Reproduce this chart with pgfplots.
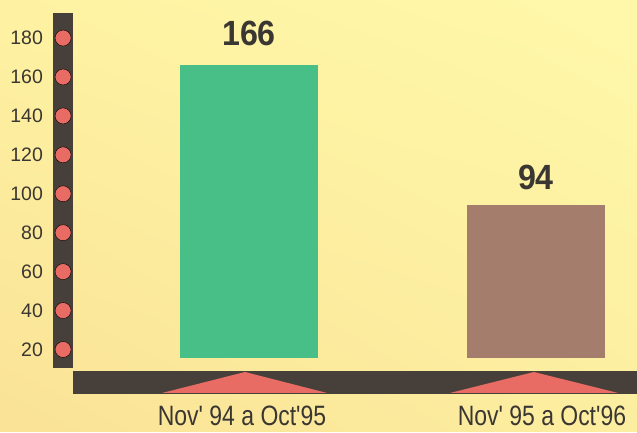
\documentclass[border=0pt]{standalone}
\usepackage{fontspec}
\setmainfont{Liberation Sans}
\usepackage{graphicx}
\usepackage{pgfplots}
\pgfplotsset{compat=1.18}
\usetikzlibrary{shadings}
\definecolor{bgLL}{HTML}{FAE296}
\definecolor{bgLR}{HTML}{FCEEA0}
\definecolor{bgUL}{HTML}{FEF2A2}
\definecolor{bgUR}{HTML}{FFF8AA}
\definecolor{darkband}{HTML}{47403A}
\definecolor{salmon}{HTML}{E86C64}
\definecolor{barGreen}{HTML}{47BF86}
\definecolor{barBrown}{HTML}{A57D6C}
\definecolor{txt}{HTML}{3A3632}
\begin{document}
\begin{tikzpicture}
\begin{axis}[
  scale only axis, width=637pt, height=432pt,
  xmin=0, xmax=637, ymin=-22.37, ymax=199.5,
  y coord trafo/.code={\pgfmathparse{#1-15.6}},
  y coord inv trafo/.code={\pgfmathparse{#1+15.6}},
  axis line style={draw=none},
  major tick length=0pt,
  ytick={20,40,60,80,100,120,140,160,180},
  yticklabel style={anchor=east, inner sep=0pt, xshift=43pt, font=\fontsize{19.5}{22}\selectfont, text=txt},
  /pgf/number format/assume math mode=true,
  xtick={242,542},
  xticklabels={Nov\textquotesingle{} 94 a Oct\textquotesingle95, Nov\textquotesingle{} 95 a Oct\textquotesingle96},
  xticklabel style={anchor=base, inner sep=0pt, yshift=6.5pt, font=\fontsize{28}{30}\selectfont, text=txt, xscale=0.82},
  axis background/.style={shade, upper left=bgUL, upper right=bgUR, lower left=bgLL, lower right=bgLR},
]
% vertical dark bar
\addplot[fill=darkband, draw=none] coordinates {(53,10.5)(72.5,10.5)(72.5,193.0)(53,193.0)};
% horizontal dark band
\addplot[fill=darkband, draw=none] coordinates {(72.5,8.96)(637,8.96)(637,-2.86)(72.5,-2.86)};
% triangles
\addplot[fill=salmon, draw=none] coordinates {(162,-2.34)(245,8.44)(327,-2.34)};
\addplot[fill=salmon, draw=none] coordinates {(450,-2.34)(534,8.44)(618,-2.34)};
% circles at tick positions
\addplot[only marks, mark=*, mark size=8pt, mark options={fill=salmon, draw=none}] coordinates {(63,20)(63,40)(63,60)(63,80)(63,100)(63,120)(63,140)(63,160)(63,180)};
% bars
\addplot[ybar, bar width=138pt, bar shift=0pt, fill=barGreen, draw=none, point meta=explicit,
  nodes near coords={\scalebox{0.92}[1]{\pgfmathprintnumber{\pgfplotspointmeta}}},
  every node near coord/.append style={anchor=base, inner sep=0pt, yshift=20pt, font=\bfseries\fontsize{35}{37}\selectfont, text=txt}]
  coordinates {(249,166) [166]};
\addplot[ybar, bar width=138pt, bar shift=0pt, fill=barBrown, draw=none, point meta=explicit,
  nodes near coords={\scalebox{0.92}[1]{\pgfmathprintnumber{\pgfplotspointmeta}}},
  every node near coord/.append style={anchor=base, inner sep=0pt, yshift=16pt, font=\bfseries\fontsize{35}{37}\selectfont, text=txt}]
  coordinates {(536,94) [94]};
\end{axis}
\end{tikzpicture}
\end{document}
